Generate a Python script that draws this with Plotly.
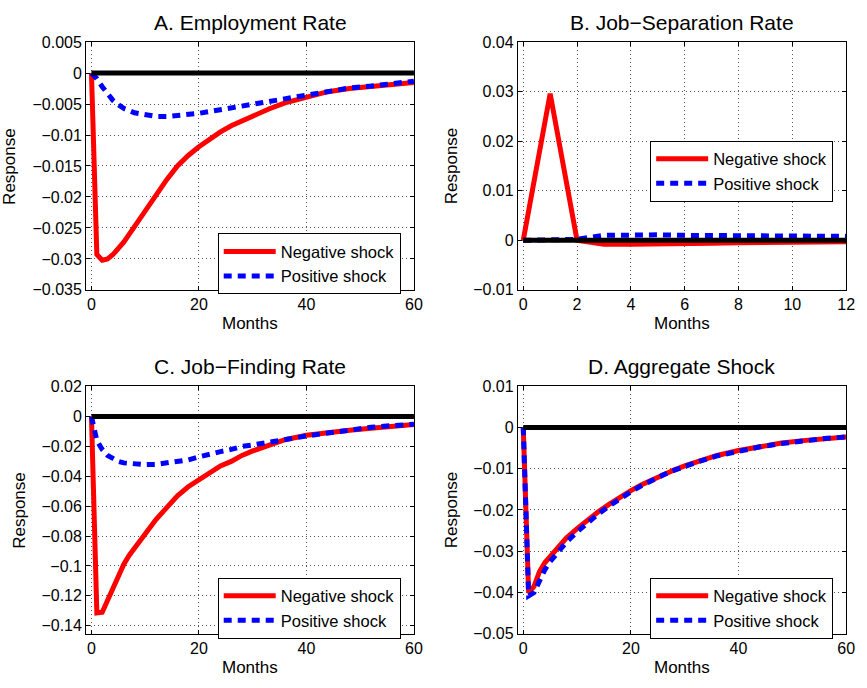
import plotly.graph_objects as go

# ---------------- data ----------------
months_a = [0, 1, 2, 3, 4, 5, 6, 8, 10, 12, 14, 16, 18, 20, 22, 24, 26, 28, 30, 33, 36, 40, 44, 48, 52, 56, 60]
emp_neg = [0, -0.0293, -0.0302, -0.0300, -0.0293, -0.0284, -0.0273, -0.0248, -0.0222, -0.0196, -0.0172,
           -0.0150, -0.0133, -0.0119, -0.0106, -0.0095, -0.0085, -0.0077, -0.0068, -0.0058, -0.0048,
           -0.0038, -0.0030, -0.0025, -0.0021, -0.0018, -0.0015]
emp_pos = [0, -0.0009, -0.0022, -0.0034, -0.0044, -0.0051, -0.0057, -0.0064, -0.0068, -0.0070, -0.0070,
           -0.0069, -0.0067, -0.0065, -0.0062, -0.0059, -0.0056, -0.0052, -0.0049, -0.0045, -0.0040,
           -0.0034, -0.0028, -0.0024, -0.0021, -0.0017, -0.0013]

months_b = [0, 1, 2, 3, 4, 5, 6, 7, 8, 9, 10, 11, 12]
sep_neg = [0, 0.0296, 0.0, -0.0008, -0.0008, -0.0008, -0.0007, -0.0006, -0.0005, -0.0004, -0.0004, -0.0003, -0.0003]
sep_pos = [0, 0.0, 0.0002, 0.0010, 0.0011, 0.0011, 0.0010, 0.0010, 0.0009, 0.0009, 0.0008, 0.0008, 0.0008]

months_c = [0, 1, 2, 3, 4, 5, 6, 7, 8, 10, 12, 14, 16, 18, 20, 22, 24, 26, 28, 30, 33, 36, 40, 44, 48, 52, 56, 60]
find_neg = [0, -0.1315, -0.1310, -0.123, -0.114, -0.106, -0.099, -0.093, -0.088, -0.078, -0.069, -0.061,
            -0.053, -0.047, -0.042, -0.037, -0.033, -0.030, -0.026, -0.023, -0.019, -0.0155, -0.0125,
            -0.0105, -0.0092, -0.0078, -0.0062, -0.0053]
find_pos = [0, -0.016, -0.022, -0.026, -0.028, -0.030, -0.031, -0.0315, -0.032, -0.0322, -0.032, -0.031,
            -0.030, -0.029, -0.027, -0.025, -0.0235, -0.022, -0.020, -0.019, -0.017, -0.0155, -0.013,
            -0.011, -0.009, -0.0072, -0.006, -0.0052]

months_d = [0, 1, 2, 3, 4, 5, 6, 8, 10, 12, 14, 16, 18, 20, 22, 24, 26, 28, 30, 33, 36, 40, 44, 48, 52, 56, 60]
agg_neg = [0, -0.0400, -0.0385, -0.0350, -0.0328, -0.0312, -0.0296, -0.0268, -0.0245, -0.0224, -0.0204,
           -0.0186, -0.0169, -0.0153, -0.0139, -0.0126, -0.0114, -0.0103, -0.0093, -0.0080, -0.0068,
           -0.0056, -0.0046, -0.0038, -0.0032, -0.0027, -0.0023]
agg_pos = [0, -0.0408, -0.0400, -0.0370, -0.0345, -0.0325, -0.0308, -0.0278, -0.0253, -0.0230, -0.0209,
           -0.0190, -0.0172, -0.0156, -0.0141, -0.0127, -0.0115, -0.0104, -0.0094, -0.0081, -0.0069,
           -0.0057, -0.0047, -0.0039, -0.0032, -0.0027, -0.0023]

zero_x = [0, 60]
zero_y = [0, 0]

titles = ["A. Employment Rate", "B. Job\u2212Separation Rate", "C. Job\u2212Finding Rate", "D. Aggregate Shock"]
series_names = ["Negative shock", "Positive shock"]

yt_a = [0.005, 0, -0.005, -0.01, -0.015, -0.02, -0.025, -0.03, -0.035]
yl_a = ["0.005", "0", "\u22120.005", "\u22120.01", "\u22120.015", "\u22120.02", "\u22120.025", "\u22120.03", "\u22120.035"]
yt_b = [0.04, 0.03, 0.02, 0.01, 0, -0.01]
yl_b = ["0.04", "0.03", "0.02", "0.01", "0", "\u22120.01"]
yt_c = [0.02, 0, -0.02, -0.04, -0.06, -0.08, -0.1, -0.12, -0.14]
yl_c = ["0.02", "0", "\u22120.02", "\u22120.04", "\u22120.06", "\u22120.08", "\u22120.1", "\u22120.12", "\u22120.14"]
yt_d = [0.01, 0, -0.01, -0.02, -0.03, -0.04, -0.05]
yl_d = ["0.01", "0", "\u22120.01", "\u22120.02", "\u22120.03", "\u22120.04", "\u22120.05"]
xt_60 = [0, 20, 40, 60]
xt_12 = [0, 2, 4, 6, 8, 10, 12]

# ---------------- layout geometry (pixels) ----------------
W, H = 867, 688
FONT = "Liberation Sans, Arial, Helvetica, sans-serif"
panels = [
    dict(x=months_a, neg=emp_neg, pos=emp_pos, l=87, r=418.3, t=35, b=289, xr=[-1, 60], yr=[-0.035, 0.005],
         xt=xt_60, yt=yt_a, yl=yl_a, leg=(220, 231), ylab_x=10),
    dict(x=months_b, neg=sep_neg, pos=sep_pos, l=523.3, r=855, t=35, b=289, xr=[-0.2, 12], yr=[-0.01, 0.04],
         xt=xt_12, yt=yt_b, yl=yl_b, leg=(657, 136), ylab_x=457),
    dict(x=months_c, neg=find_neg, pos=find_pos, l=87, r=418.3, t=387.7, b=641.7, xr=[-1, 60],
         yr=[-0.1455, 0.0204], xt=xt_60, yt=yt_c, yl=yl_c, leg=(220, 584), ylab_x=20),
    dict(x=months_d, neg=agg_neg, pos=agg_pos, l=523.3, r=855, t=387.7, b=641.7, xr=[-1, 60], yr=[-0.05, 0.01],
         xt=xt_60, yt=yt_d, yl=yl_d, leg=(657, 584), ylab_x=457),
]

fig = go.Figure()
annotations = []
layout = dict(
    width=W, height=H, margin=dict(l=0, r=0, t=0, b=0),
    paper_bgcolor="white", plot_bgcolor="white",
    font=dict(family=FONT, size=16, color="black"),
    showlegend=True,
)

for i, p in enumerate(panels):
    k = i + 1
    xa = "x" if k == 1 else f"x{k}"
    ya = "y" if k == 1 else f"y{k}"
    lg = "legend" if k == 1 else f"legend{k}"
    fig.add_trace(go.Scatter(x=p["x"], y=p["neg"], mode="lines", name=series_names[0],
                             line=dict(color="#ff0000", width=5), xaxis=xa, yaxis=ya, legend=lg))
    fig.add_trace(go.Scatter(x=p["x"], y=p["pos"], mode="lines", name=series_names[1],
                             line=dict(color="#0000ff", width=5, dash="8px,6px"), xaxis=xa, yaxis=ya, legend=lg))
    fig.add_trace(go.Scatter(x=zero_x, y=zero_y, mode="lines", showlegend=False,
                             line=dict(color="black", width=5), xaxis=xa, yaxis=ya))
    axis_common = dict(showline=True, linecolor="black", linewidth=1, mirror="ticks",
                       ticks="inside", ticklen=4, tickcolor="black",
                       showgrid=True, gridcolor="#555555", gridwidth=1, griddash="1px,3px",
                       zeroline=False, tickfont=dict(size=16, family=FONT))
    layout["xaxis" if k == 1 else f"xaxis{k}"] = dict(
        domain=[p["l"] / W, p["r"] / W], range=p["xr"], anchor=ya,
        tickmode="array", tickvals=p["xt"], ticktext=[str(v) for v in p["xt"]], **axis_common)
    layout["yaxis" if k == 1 else f"yaxis{k}"] = dict(
        domain=[1 - p["b"] / H, 1 - p["t"] / H], range=p["yr"], anchor=xa,
        tickmode="array", tickvals=p["yt"], ticktext=p["yl"], **axis_common)
    layout[lg] = dict(x=p["leg"][0] / W, y=1 - p["leg"][1] / H, xanchor="left", yanchor="top",
                      bgcolor="white", bordercolor="black", borderwidth=1,
                      font=dict(size=16.5, family=FONT), itemwidth=52, tracegroupgap=0)
    cx = (p["l"] + p["r"]) / 2
    annotations.append(dict(text=titles[i], x=cx / W, y=1 - (p["t"] - 20) / H, xref="paper", yref="paper",
                            showarrow=False, font=dict(size=21, family=FONT), xanchor="center", yanchor="middle"))
    annotations.append(dict(text="Months", x=cx / W, y=1 - (p["b"] + 34) / H, xref="paper", yref="paper",
                            showarrow=False, font=dict(size=17, family=FONT), xanchor="center", yanchor="middle"))
    annotations.append(dict(text="Response", x=p["ylab_x"] / W, y=1 - ((p["t"] + p["b"]) / 2) / H,
                            xref="paper", yref="paper", textangle=-90, showarrow=False,
                            font=dict(size=17, family=FONT), xanchor="center", yanchor="middle"))

layout["annotations"] = annotations
fig.update_layout(**layout)
fig.write_html("out.html")
